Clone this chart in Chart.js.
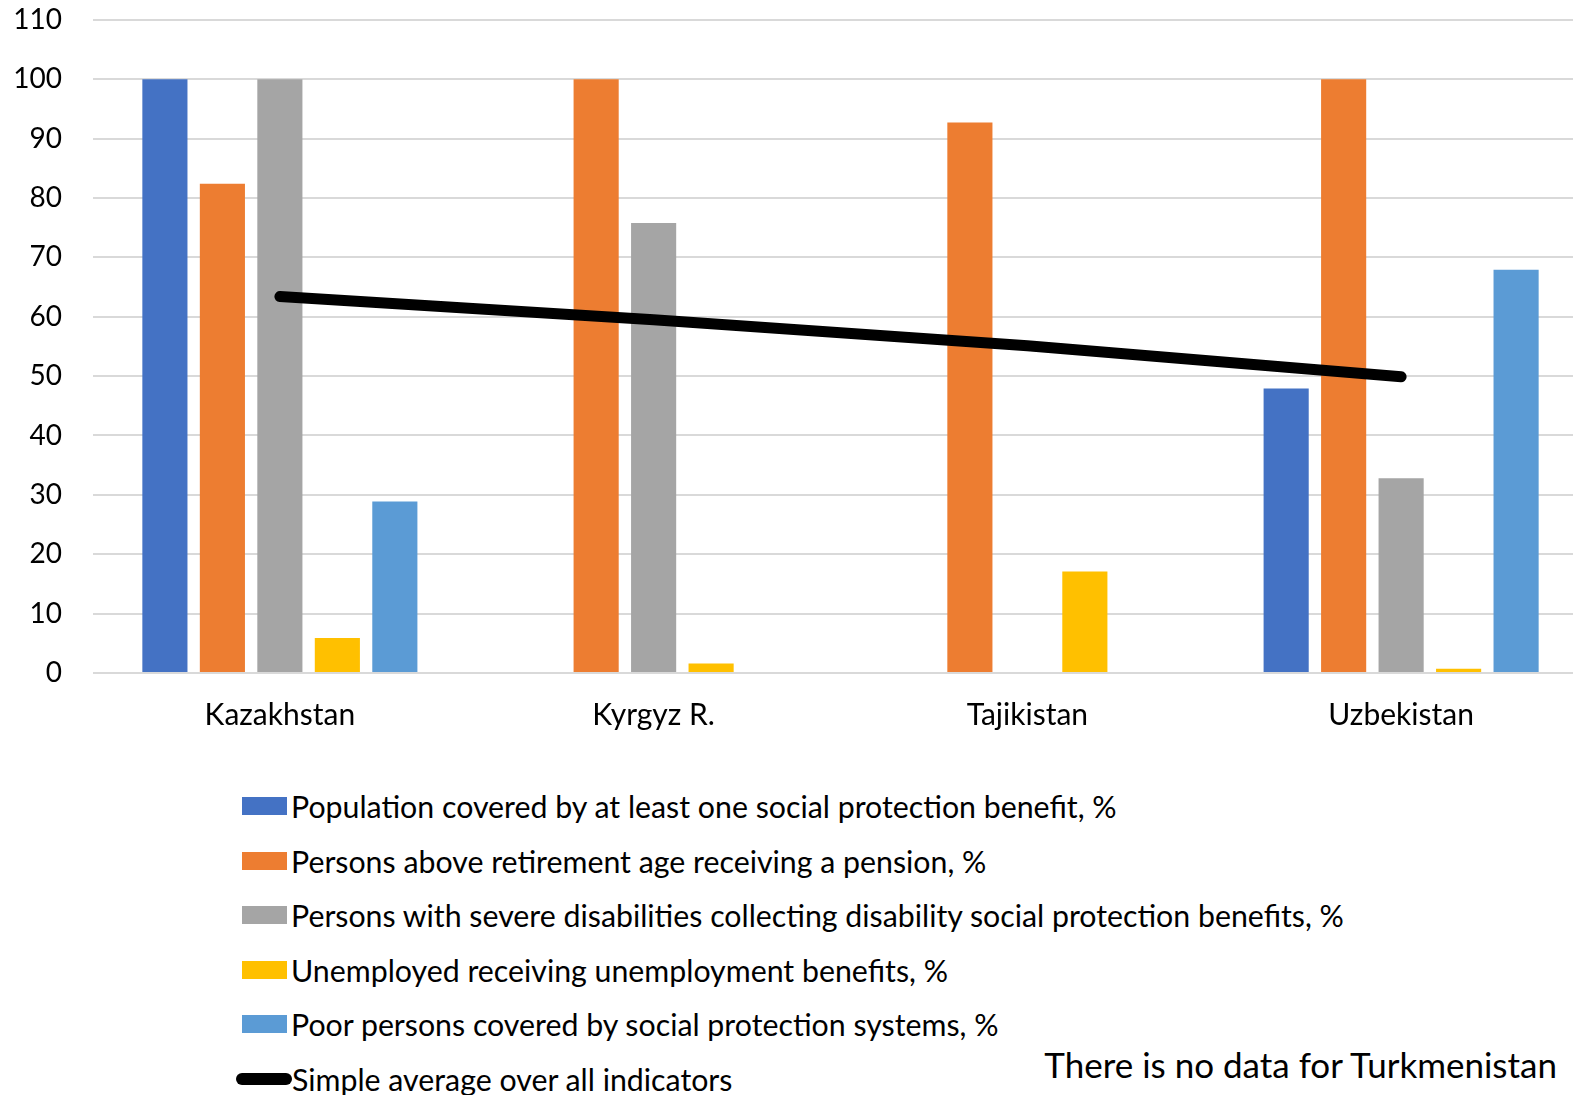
<!DOCTYPE html>
<html>
<head>
<meta charset="utf-8">
<script src="https://cdn.jsdelivr.net/npm/chart.js@4"></script>
<style>
    body { margin: 0; background: #fff; }
    #contenedor { position: relative; width: 1573px; height: 1095px; overflow: hidden; font-family: Lato, sans-serif; color: #000; }
    #grafico { position: absolute; left: 0; top: -28px; }
    #leyenda { position: absolute; left: 242px; top: 779px; }
    .item { display: flex; align-items: center; height: 54.5px; font-size: 30.3px; white-space: nowrap; }
    .caja { width: 45px; height: 18px; margin-right: 4px; }
    .linea { width: 56px; height: 12px; border-radius: 6px; margin-left: -6px; background: #000; }
    #nota { position: absolute; right: 16px; top: 1043px; font-size: 35px; white-space: nowrap; }
</style>
</head>
<body>
<div id="contenedor">
    <canvas id="grafico" width="1588" height="776"></canvas>
    <div id="leyenda"></div>
    <div id="nota">There is no data for Turkmenistan</div>
</div>
<script>
const paises = ['Kazakhstan', 'Kyrgyz R.', 'Tajikistan', 'Uzbekistan'];

const poblacionCubierta = [100, null, null, 47.9];
const pension = [82.4, 100, 92.7, 100];
const discapacidad = [100, 75.8, null, 32.8];
const desempleo = [5.9, 1.6, 17.1, 0.7];
const pobres = [28.9, null, null, 67.9];
const promedio = [63.4, 59.5, 55.1, 49.9];

const ticksY = { min: 0, max: 110, paso: 10 };

const series = [
    { label: 'Population covered by at least one social protection benefit, %', data: poblacionCubierta, color: '#4472C4' },
    { label: 'Persons above retirement age receiving a pension, %', data: pension, color: '#ED7D31' },
    { label: 'Persons with severe disabilities collecting disability social protection benefits, %', data: discapacidad, color: '#A5A5A5' },
    { label: 'Unemployed receiving unemployment benefits, %', data: desempleo, color: '#FFC000' },
    { label: 'Poor persons covered by social protection systems, %', data: pobres, color: '#5B9BD5' }
];

Chart.defaults.font.family = 'Lato';
Chart.defaults.color = '#000';

const datasets = series.map(s => ({
    type: 'bar',
    label: s.label,
    data: s.data,
    backgroundColor: s.color,
    borderWidth: 0,
    categoryPercentage: 0.769,
    barPercentage: 0.785,
    order: 1
}));

datasets.push({
    type: 'line',
    label: 'Simple average over all indicators',
    data: promedio,
    borderColor: '#000',
    backgroundColor: '#000',
    borderWidth: 11,
    borderCapStyle: 'round',
    pointRadius: 0,
    tension: 0,
    order: 0
});

const grafico = new Chart(document.getElementById('grafico'), {
    data: { labels: paises, datasets: datasets },
    options: {
        responsive: false,
        animation: false,
        devicePixelRatio: 1,
        layout: { padding: { top: 19, right: 0, bottom: 0, left: 0 } },
        plugins: { legend: { display: false }, tooltip: { enabled: false } },
        scales: {
            x: {
                grid: { display: false },
                border: { display: false },
                ticks: { font: { size: 30 }, padding: 16, color: '#000' },
                afterFit: (scale) => { scale.height = 75; }
            },
            y: {
                min: ticksY.min,
                max: ticksY.max,
                ticks: { stepSize: ticksY.paso, font: { size: 28 }, padding: 31, color: '#000' },
                grid: { color: '#d9d9d9', lineWidth: 2, drawTicks: false },
                border: { display: false },
                afterFit: (scale) => { scale.width = 93; }
            }
        }
    }
});

// leyenda en HTML, una fila por serie
const leyenda = document.getElementById('leyenda');
grafico.data.datasets.forEach(ds => {
    const fila = document.createElement('div');
    fila.className = 'item';
    const marca = document.createElement('span');
    if (ds.type === 'line') {
        marca.className = 'linea';
    } else {
        marca.className = 'caja';
        marca.style.background = ds.backgroundColor;
    }
    const texto = document.createElement('span');
    texto.textContent = ds.label;
    fila.appendChild(marca);
    fila.appendChild(texto);
    leyenda.appendChild(fila);
});
</script>
</body>
</html>
